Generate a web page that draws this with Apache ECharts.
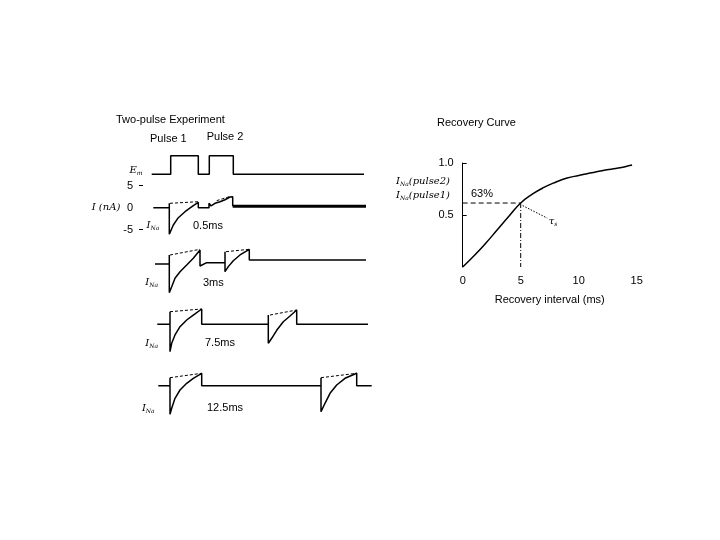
<!DOCTYPE html>
<html><head><meta charset="utf-8">
<script src="https://cdn.jsdelivr.net/npm/echarts@6/dist/echarts.min.js"></script>
<style>html,body{margin:0;padding:0;background:#fff}#chart{width:720px;height:540px}</style>
</head><body><div id="chart"></div>
<script>
// ---- Two-pulse experiment (schematic time units, current in nA) ----
const emTrace = [[0.87,0],[2.77,0],[2.77,1],[5.53,1],[5.53,0],[6.63,0],[6.63,1],[9.03,1],[9.03,0],[22.1,0]];

const trace05 = [[1.03,0],[2.63,0],[2.63,1.0],[2.63,-6.05],[3.03,-3.93],[3.53,-2.27],[4.2,-0.91],[5.03,0.45],[5.53,1.23],[5.53,0],[6.6,0],[6.6,1.0],[6.8,0.4],[7.2,1.0],[7.7,1.36],[8.2,1.8],[8.7,2.43],[8.97,2.5],[8.97,0.35]];
const trace05Tail = [[8.97,0.35],[22.3,0.35]];
const trace05Peaks = [[[2.7,1.0],[5.53,1.36]],[[7.37,1.6],[8.7,2.55]]];

const trace3 = [[1.2,0],[2.63,0],[2.63,2.05],[2.63,-6.5],[2.87,-5.16],[3.2,-3.25],[3.7,-1.75],[4.37,-0.23],[5.03,1.3],[5.7,3.2],[5.7,-0.45],[6.37,0.3],[8.2,0.3],[8.2,2.8],[8.2,-1.75],[8.53,-0.6],[9.03,0.75],[9.7,2.05],[10.63,3.34],[10.63,0.9],[22.3,0.9]];
const trace3Peaks = [[[2.7,2.05],[5.7,3.34]],[[8.3,2.8],[10.63,3.34]]];

const trace75 = [[1.43,0],[2.7,0],[2.7,2.86],[2.7,-6.23],[2.87,-4.32],[3.2,-2.42],[3.7,-0.55],[4.37,0.98],[5.03,2.1],[5.87,3.48],[5.87,0],[12.53,0],[12.53,2.11],[12.53,-4.32],[12.87,-3.18],[13.37,-1.36],[14.03,0.59],[14.7,1.89],[15.37,3.25],[15.37,0],[22.5,0]];
const trace75Peaks = [[[2.7,2.86],[5.87,3.48]],[[12.7,2.11],[15.37,3.25]]];

const trace125 = [[1.53,0],[2.7,0],[2.7,1.82],[2.7,-6.5],[2.87,-5.14],[3.2,-2.86],[3.7,-0.98],[4.37,0.55],[5.03,1.68],[5.87,2.82],[5.87,0],[17.8,0],[17.8,1.82],[17.8,-5.9],[18.2,-4.0],[18.7,-1.73],[19.37,0.16],[20.2,1.68],[21.37,2.82],[21.37,0],[22.87,0]];
const trace125Peaks = [[[2.7,1.82],[5.87,2.82]],[[17.8,1.82],[21.37,2.82]]];

const currentTicks = [-5, 0, 5];
const traceIntervals = ['0.5ms', '3ms', '7.5ms', '12.5ms'];

// ---- Recovery curve ----
const recoveryInterval = [0,1,2,3,4,5,6,7,8,9,10,11,12,13,14,14.6];
const recoveryRatio = [0,0.11,0.23,0.36,0.49,0.615,0.70,0.765,0.815,0.855,0.88,0.903,0.925,0.945,0.965,0.98];
const tauPoint = [5, 0.615];
const tauPointer = [[5.17,0.59],[7.29,0.47]];
const recoveryXTicks = [0,5,10,15];
const recoveryYTicks = [0.5,1.0];

const FONT = 'Liberation Sans, Arial, sans-serif';
const chart = echarts.init(document.getElementById('chart'), null, {renderer:'canvas'});

const baselines = [207.7, 264, 324.3, 385.7];
const PX = 4.4; // px per nA

const grids = [{left:143, width:230, top:155.7, height:18.6}];
baselines.forEach(b => grids.push({left:143, width:230, top:b - 10*PX, height:20*PX}));
grids.push({left:462.7, width:174, top:163, height:104});

const xAxes = [], yAxes = [];
for (let i = 0; i < 5; i++) {
  xAxes.push({type:'value', gridIndex:i, min:0, max:23, show:false});
}
yAxes.push({type:'value', gridIndex:0, min:0, max:1, show:false});
for (let i = 1; i < 5; i++) {
  const showAx = i === 1;
  yAxes.push({type:'value', gridIndex:i, min:-10, max:10, interval:5, show:showAx,
    axisLine:{show:false}, splitLine:{show:false},
    axisTick:{show:true, customValues:[-5,5], length:4, lineStyle:{color:'#000', width:1}},
    axisLabel:{customValues:currentTicks, margin:10, color:'#000', fontFamily:FONT, fontSize:11}});
}
xAxes.push({type:'value', gridIndex:5, min:0, max:15, interval:5,
  axisLine:{show:false}, axisTick:{show:false}, splitLine:{show:false},
  axisLabel:{customValues:recoveryXTicks, margin:8, color:'#000', fontFamily:FONT, fontSize:11},
  name:'Recovery interval (ms)', nameLocation:'middle', nameGap:27,
  nameTextStyle:{color:'#000', fontFamily:FONT, fontSize:11}});
yAxes.push({type:'value', gridIndex:5, min:0, max:1, interval:0.5,
  axisLine:{show:true, lineStyle:{color:'#000', width:1}}, splitLine:{show:false},
  axisTick:{show:true, inside:true, customValues:recoveryYTicks, length:4, lineStyle:{color:'#000'}},
  axisLabel:{customValues:recoveryYTicks, margin:9, color:'#000', fontFamily:FONT, fontSize:11,
    formatter: v => v.toFixed(1)}});

const solid = (data, gi, w) => ({type:'line', xAxisIndex:gi, yAxisIndex:gi, data, showSymbol:false,
  symbol:'none', lineStyle:{color:'#000', width:w||1.5}, silent:true, animation:false});
const dashed = (data, gi, dash, w) => ({type:'line', xAxisIndex:gi, yAxisIndex:gi, data, showSymbol:false,
  symbol:'none', lineStyle:{color:'#000', width:w||1, type:dash||[3,2]}, silent:true, animation:false});

const series = [];
series.push(solid(emTrace, 0));
series.push(solid(trace05, 1));
series.push(solid(trace05Tail, 1, 3));
trace05Peaks.forEach(p => series.push(dashed(p, 1)));
series.push(solid(trace3, 2));
trace3Peaks.forEach(p => series.push(dashed(p, 2)));
series.push(solid(trace75, 3));
trace75Peaks.forEach(p => series.push(dashed(p, 3)));
series.push(solid(trace125, 4));
trace125Peaks.forEach(p => series.push(dashed(p, 4)));

series.push({type:'line', xAxisIndex:5, yAxisIndex:5, smooth:0.5, showSymbol:false, symbol:'none',
  data: recoveryInterval.map((x,i)=>[x, recoveryRatio[i]]), lineStyle:{color:'#000', width:1.5}, animation:false});
series.push(dashed([[0,tauPoint[1]],tauPoint], 5, [5,3], 1));
series.push(dashed([tauPoint,[tauPoint[0],0]], 5, [5,2,1,2], 1));
series.push(dashed(tauPointer, 5, [1.5,1.5], 1));

const rich = {
  i:{fontFamily:'DejaVu Serif, serif', fontStyle:'italic', fontSize:10, color:'#000', lineHeight:12},
  s:{fontFamily:'DejaVu Serif, serif', fontStyle:'italic', fontSize:6, color:'#000', verticalAlign:'bottom', lineHeight:12},
  t:{fontFamily:FONT, fontSize:11, color:'#000'}
};
const txt = (x, y, text, align, size, r) => ({type:'text', x, y, silent:true, style:{text, x:0, y:0,
  font: (size||11)+'px '+FONT, fill:'#000', align:align||'left', verticalAlign:'middle', rich:r?rich:undefined}});

const naLabelPos = [[153,225],[151.7,282.7],[151.7,343.3],[148.3,408]];
const intervalLabelPos = [[193,225.7],[203,282.7],[205,343.3],[207,407.7]];

const graphic = [
  txt(116,120,'Two-pulse Experiment'),
  txt(150,138.5,'Pulse 1'),
  txt(206.7,137,'Pulse 2'),
  txt(136,170,'{i|E}{s|m}','center',11,true),
  txt(106,207,'{i|I (nA)}','center',10,true),
  txt(437,123,'Recovery Curve'),
  txt(482,194,'63%','center'),
  txt(553,221,'{i|τ}{s|s}','center',10,true),
  txt(423,181,'{i|I}{s|Na}{i|(pulse2)}','center',10,true),
  txt(423,195,'{i|I}{s|Na}{i|(pulse1)}','center',10,true)
];
naLabelPos.forEach(p => graphic.push(txt(p[0],p[1],'{i|I}{s|Na}','center',10,true)));
intervalLabelPos.forEach((p,i) => graphic.push(txt(p[0],p[1],traceIntervals[i])));

chart.setOption({
  backgroundColor:'#fff',
  animation:false,
  grid:grids,
  xAxis:xAxes,
  yAxis:yAxes,
  series,
  graphic
});
</script></body></html>
